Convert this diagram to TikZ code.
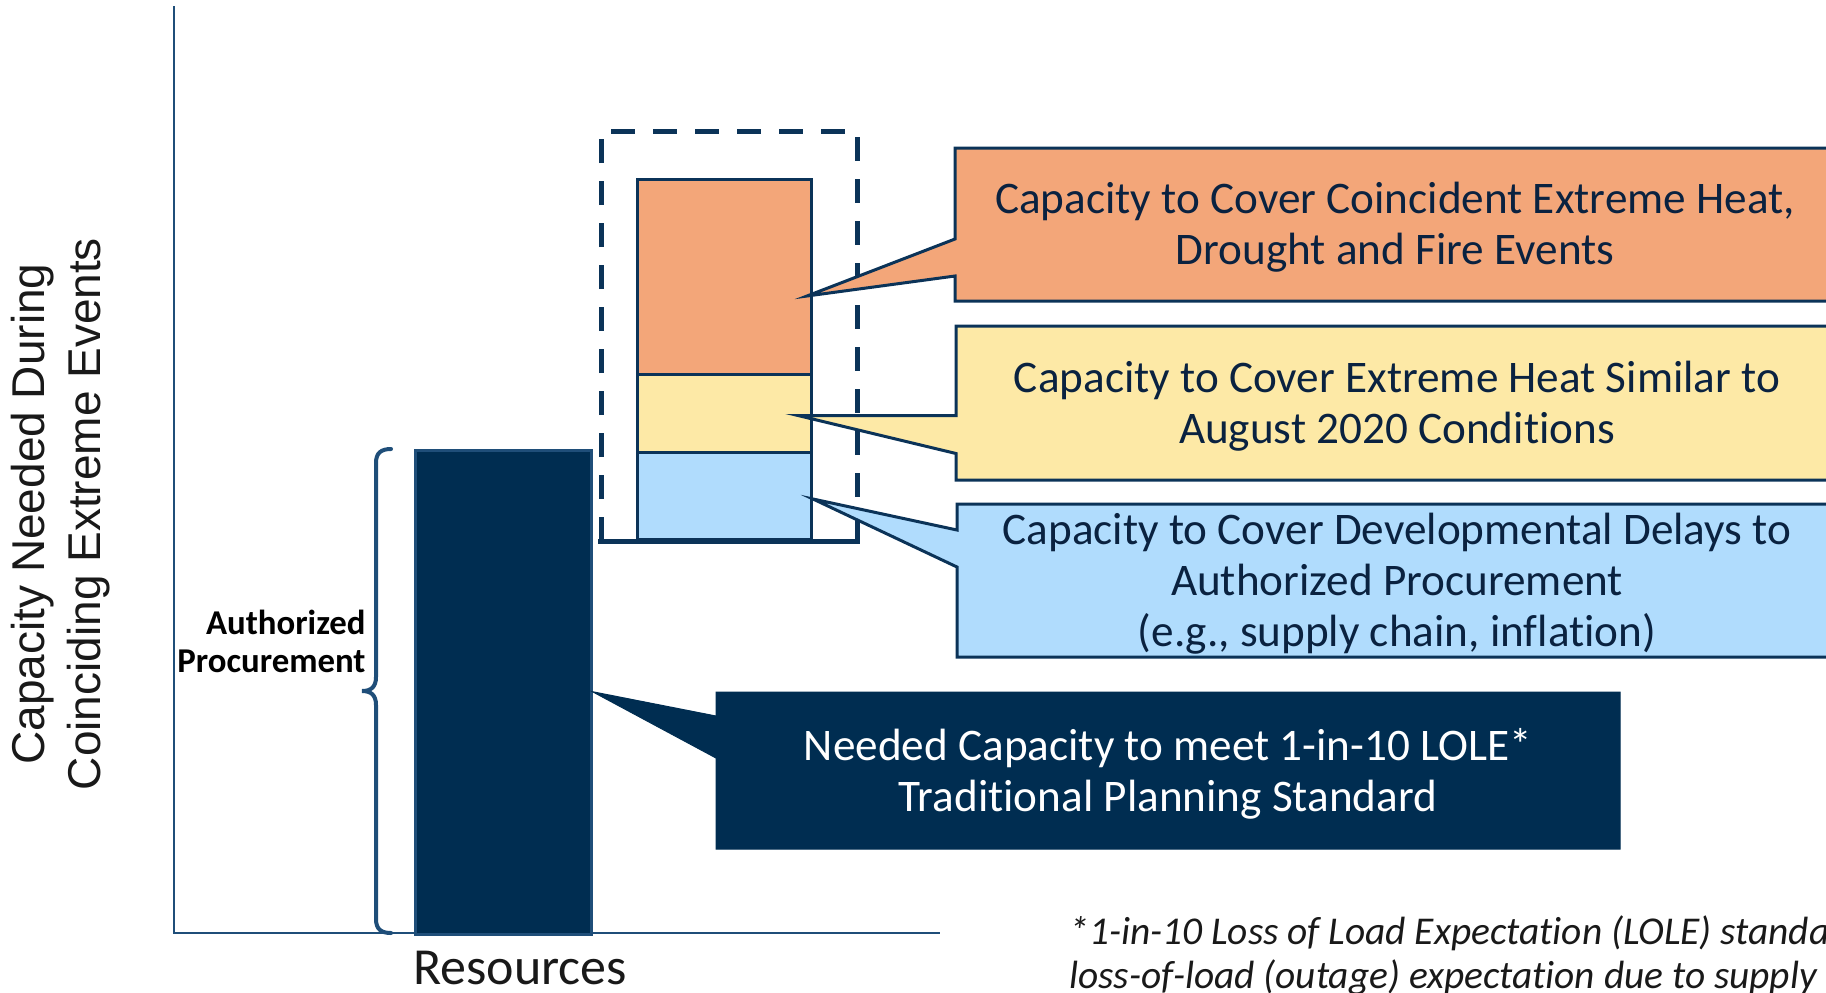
\documentclass[tikz,border=0pt]{standalone}
\usepackage{fontspec}
\setmainfont{Carlito}[Ligatures=NoCommon]
\newfontfamily\arialfont{Liberation Sans}
\usetikzlibrary{calc}
\definecolor{cOrange}{HTML}{F3A679}
\definecolor{cYellow}{HTML}{FDE9A6}
\definecolor{cBlue}{HTML}{B0DCFD}
\definecolor{cNavy}{HTML}{002D51}
\definecolor{cLine}{HTML}{0B3358}
\definecolor{cAxis}{HTML}{1F4E79}
\definecolor{cText}{HTML}{0A2240}
\pgfdeclarelayer{bg}
\pgfdeclarelayer{mid}
\pgfsetlayers{bg,mid,main}
\begin{document}
\begin{tikzpicture}[x=0.5pt,y=-0.5pt,
  seg/.style={draw=cLine,line width=1.5pt,inner sep=0pt,outer sep=0pt,anchor=north west,minimum width=86.75pt},
  callout/.style={draw=cLine,line width=1.5pt,line join=miter},
  boxframe/.style={inner sep=0pt,outer sep=0pt,anchor=north west},
  boxtext/.style={inner sep=0pt,align=center,font=\fontsize{22.6}{25.5}\selectfont,text=cText},
  brace/.style={draw=cAxis,line width=2pt,line cap=round}
]
\useasboundingbox (0,0) rectangle (1826,992);
\clip (0,0) rectangle (1826,992);

\begin{pgfonlayer}{bg}
  % axes
  \coordinate (ytop) at (173.5,6);
  \coordinate (origin) at (173.5,933);
  \coordinate (xend) at (940,933);
  \draw[cAxis,line width=1pt] (ytop) -- (origin) -- (xend);
  % main bar
  \node[draw=cAxis,fill=cNavy,line width=1.5pt,inner sep=0pt,outer sep=0pt,anchor=north west,
        minimum width=87.75pt,minimum height=242pt] (bar) at (415.5,450) {};
  % brace
  \coordinate (brtop) at (391,449);
  \coordinate (brtip) at (362,691);
  \coordinate (brbot) at (391,933);
  \draw[brace] (brtop) .. controls (381,449) and (376,453) .. (376,463) -- (376,677)
     .. controls (376,687) and (371,691) .. (brtip)
     .. controls (371,691) and (376,695) .. (376,705) -- (376,919)
     .. controls (376,929) and (381,933) .. (brbot);
  % dashed envelope
  \coordinate (dbl) at (601,541);
  \coordinate (dtl) at (601,131);
  \coordinate (dtr) at (857,131);
  \coordinate (dbr) at (857,541);
  \draw[cLine,line width=2.5pt,dash pattern=on 12pt off 9pt] (dbl) -- (dtl) -- (dtr) -- (dbr);
  \draw[cLine,line width=2.5pt] (598,541) -- (860,541);
  % stack
  \node[seg,fill=cOrange,minimum height=97.25pt] (seg1) at (637.5,179.5) {};
  \node[seg,fill=cYellow,minimum height=39pt] (seg2) at (637.5,374) {};
  \node[seg,fill=cBlue,minimum height=43.75pt] (seg3) at (637.5,452) {};
\end{pgfonlayer}

% callout boxes (frames)
\node[boxframe,minimum width=440pt,minimum height=76.5pt] (obox) at (955,148) {};
\node[boxframe,minimum width=441pt,minimum height=77pt] (ybox) at (956,326) {};
\node[boxframe,minimum width=440pt,minimum height=76.5pt] (bbox) at (957,504) {};
\node[boxframe,minimum width=452pt,minimum height=78.5pt] (nbox) at (716,692) {};

% callout shapes
\coordinate (otip) at ($(seg1.north east)+(-4,116.5)$);
\coordinate (ytip) at ($(seg2.north east)+(-13,41.5)$);
\coordinate (btip) at ($(seg3.north east)+(2,47)$);
\coordinate (ntip) at ($(bar.north east)+(1.5,241.7)$);
\begin{pgfonlayer}{mid}
  \draw[callout,fill=cOrange] (obox.north west) -- (obox.north east) -- (obox.south east) -- (obox.south west)
     -- ($(obox.north west)+(0,128)$) -- (otip) -- ($(obox.north west)+(0,91)$) -- cycle;
  \draw[callout,fill=cYellow] (ybox.north west) -- (ybox.north east) -- (ybox.south east) -- (ybox.south west)
     -- ($(ybox.north west)+(0,127.5)$) -- (ytip) -- ($(ybox.north west)+(0,89.5)$) -- cycle;
  \draw[callout,fill=cBlue] (bbox.north west) -- (bbox.north east) -- (bbox.south east) -- (bbox.south west)
     -- ($(bbox.north west)+(0,63)$) -- (btip) -- ($(bbox.north west)+(0,26)$) -- cycle;
  \draw[draw=cNavy,fill=cNavy,line width=0.5pt,line join=miter] (nbox.north west) -- (nbox.north east) -- (nbox.south east) -- (nbox.south west)
     -- ($(nbox.north west)+(0,66)$) -- (ntip) -- ($(nbox.north west)+(0,24)$) -- cycle;
\end{pgfonlayer}

% callout texts
\node[boxtext] (otext) at ($(obox.center)+(0,3)$)
  {Capacity to Cover Coincident Extreme Heat,\\Drought and Fire Events};
\node[boxtext] (ytext) at ($(ybox.center)+(0,3)$)
  {Capacity to Cover Extreme Heat Similar to\\August 2020 Conditions};
\node[boxtext] (btext) at ($(bbox.center)+(0,3)$)
  {Capacity to Cover Developmental Delays to\\Authorized Procurement\\(e.g., supply chain, inflation)};
\node[boxtext,text=white] (ntext) at ($(nbox.center)+(0,3.5)$)
  {Needed Capacity to meet 1-in-10 LOLE*\\Traditional Planning Standard};

% labels
\node[rotate=90,align=center,inner sep=0pt,font=\arialfont\fontsize{23}{28}\selectfont,text=black!90] (ylab) at (61,514)
  {Capacity Needed During\\Coinciding Extreme Events};
\node[anchor=east,align=right,inner sep=0pt,font=\bfseries\fontsize{17.4}{18.6}\selectfont] (ap) at (366,641.5)
  {Authorized\\Procurement};
\node[anchor=base,inner sep=0pt,font=\fontsize{26}{30}\selectfont,text=black!90] (res) at (520,984) {Resources};
\node[anchor=base west,inner sep=0pt,font=\itshape\fontsize{19.7}{22}\selectfont,text=black!90] (fn1) at (1069,944)
  {*1-in-10 Loss of Load Expectation (LOLE) standard};
\node[anchor=base west,inner sep=0pt,font=\itshape\fontsize{19.7}{22}\selectfont,text=black!90] (fn2) at (1069,988)
  {loss-of-load (outage) expectation due to supply};
\end{tikzpicture}
\end{document}
